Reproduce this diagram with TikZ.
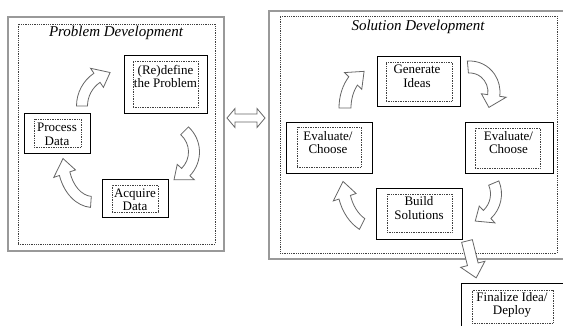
\documentclass[tikz,border=0pt]{standalone}
\usepackage{fontspec}
\setmainfont{Liberation Serif}

\tikzset{
  panelframe/.style={draw=black!40, line width=1.3pt},
  dotframe/.style={draw=black!75, densely dotted, line width=0.8pt},
  stepbox/.style={draw=black, line width=0.9pt, inner sep=0pt},
  innerbox/.style={draw=black!75, densely dotted, line width=0.7pt, inner sep=0pt},
  steptext/.style={align=center, font=\fontsize{13}{13.5}\selectfont, inner sep=0pt},
  heading/.style={font=\fontsize{15}{16}\selectfont\itshape, inner sep=0pt},
  blockarrow/.style={draw=black!60, fill=white, line width=0.8pt, line join=miter},
}

% Curved block arrow along an elliptical arc:
% #1 centre, #2 x radius, #3 y radius, #4 tail angle, #5 tip angle,
% #6 half shaft width, #7 half head width, #8 head length (degrees)
\newcommand\bentarrow[8]{%
  \pgfmathsetmacro\bnA{#5+(#4>#5?1:-1)*#8}%
  \pgfmathsetmacro\bnXo{#2+#6}\pgfmathsetmacro\bnYo{#3+#6}%
  \pgfmathsetmacro\bnXi{#2-#6}\pgfmathsetmacro\bnYi{#3-#6}%
  \pgfmathsetmacro\bnXh{#2+#7}\pgfmathsetmacro\bnYh{#3+#7}%
  \pgfmathsetmacro\bnXg{#2-#7}\pgfmathsetmacro\bnYg{#3-#7}%
  \path[blockarrow, shift={#1}]
    (#4:\bnXo pt and \bnYo pt)
    arc[start angle=#4, end angle=\bnA, x radius=\bnXo pt, y radius=\bnYo pt]
    -- (\bnA:\bnXh pt and \bnYh pt) -- (#5:#2pt and #3pt)
    -- (\bnA:\bnXg pt and \bnYg pt) -- (\bnA:\bnXi pt and \bnYi pt)
    arc[start angle=\bnA, end angle=#4, x radius=\bnXi pt, y radius=\bnYi pt]
    -- cycle;
}

\begin{document}
\begin{tikzpicture}[x=1pt,y=1pt]
\useasboundingbox (0,0) rectangle (563,-325);

% panels
\node[panelframe, minimum width=216pt, minimum height=234pt, inner sep=0pt] (probpanel) at (116,-134) {};
\node[dotframe, minimum width=197pt, minimum height=220pt, inner sep=0pt] (probinner) at (116.5,-134) {};
\node[panelframe, minimum width=301pt, minimum height=248pt, inner sep=0pt] (solpanel) at (419.5,-135) {};
\node[dotframe, minimum width=277pt, minimum height=237pt, inner sep=0pt] (solinner) at (418.5,-134.5) {};

\node[heading] (probtitle) at (116,-33) {Problem Development};
\node[heading] (soltitle) at (418,-27) {Solution Development};

% problem development steps
\node[stepbox, minimum width=83pt, minimum height=58pt] (redef) at (165.5,-84) {};
\node[innerbox, minimum width=65pt, minimum height=46pt] (redefin) at (165.5,-84) {};
\node[steptext] (redeft) at (165.5,-76.5) {(Re)define\\the Problem};

\node[stepbox, minimum width=66pt, minimum height=40pt] (process) at (57,-133) {};
\node[innerbox, minimum width=47pt, minimum height=28pt] (processin) at (57.5,-133) {};
\node[steptext] (processt) at (57,-134.5) {Process\\Data};

\node[stepbox, minimum width=66pt, minimum height=38pt] (acquire) at (135,-198) {};
\node[innerbox, minimum width=46pt, minimum height=27pt] (acquirein) at (135,-198.5) {};
\node[steptext] (acquiret) at (135,-200) {Acquire\\Data};

% solution development steps
\node[stepbox, minimum width=83pt, minimum height=50pt] (gen) at (418.5,-81) {};
\node[innerbox, minimum width=66pt, minimum height=39pt] (genin) at (419,-81.5) {};
\node[steptext] (gent) at (417,-76.5) {Generate\\Ideas};

\node[stepbox, minimum width=86pt, minimum height=51pt] (evl) at (329,-147.5) {};
\node[innerbox, minimum width=64pt, minimum height=40pt] (evlin) at (329,-147) {};
\node[steptext] (evlt) at (328,-142.5) {Evaluate/\\Choose};

\node[stepbox, minimum width=88pt, minimum height=51pt] (evr) at (509,-147.5) {};
\node[innerbox, minimum width=65pt, minimum height=40pt] (evrin) at (507.5,-148) {};
\node[steptext] (evrt) at (508.5,-142.5) {Evaluate/\\Choose};

\node[stepbox, minimum width=86pt, minimum height=51pt] (build) at (419,-213.5) {};
\node[innerbox, minimum width=65pt, minimum height=38pt] (buildin) at (419.5,-213) {};
\node[steptext] (buildt) at (419,-208) {Build\\Solutions};

\node[stepbox, minimum width=109pt, minimum height=57pt] (final) at (515.5,-311.5) {};
\node[innerbox, minimum width=81pt, minimum height=33pt] (finalin) at (512.5,-306.5) {};
\node[steptext] (finalt) at (512,-305) {Finalize Idea/\\Deploy};

% two-way block arrow between the panels
\path[blockarrow, shift={(246,-118)}]
  (-19,0) -- (-11,9.5) -- (-11,4) -- (11,4) -- (11,9.5) -- (19,0)
  -- (11,-9.5) -- (11,-4) -- (-11,-4) -- (-11,-9.5) -- cycle;

% block arrow from the build step down to the final step
\path[blockarrow, shift={(467,-241)}, rotate=-76]
  (0,5.5) -- (24,5.5) -- (24,12.5) -- (38,0) -- (24,-12.5) -- (24,-5.5) -- (0,-5.5) -- cycle;

% cycle arrows, problem side
\bentarrow{(116,-106)}{34}{34}{180}{100}{5.5}{11.5}{24}
\bentarrow{(162,-152)}{32}{30}{45}{-68}{5.5}{11.5}{26}
\bentarrow{(93,-160)}{30}{42}{266}{178}{5.5}{11.5}{21}

% cycle arrows, solution side
\bentarrow{(374,-108)}{29}{39}{180}{110}{6}{12}{26}
\bentarrow{(470,-92)}{24}{25}{95}{-38}{6}{12.5}{30}
\bentarrow{(468,-194)}{28}{28}{23}{-75}{5.5}{11.5}{28}
\bentarrow{(378,-183)}{35}{46}{243}{178}{6}{12}{20}
\end{tikzpicture}
\end{document}
